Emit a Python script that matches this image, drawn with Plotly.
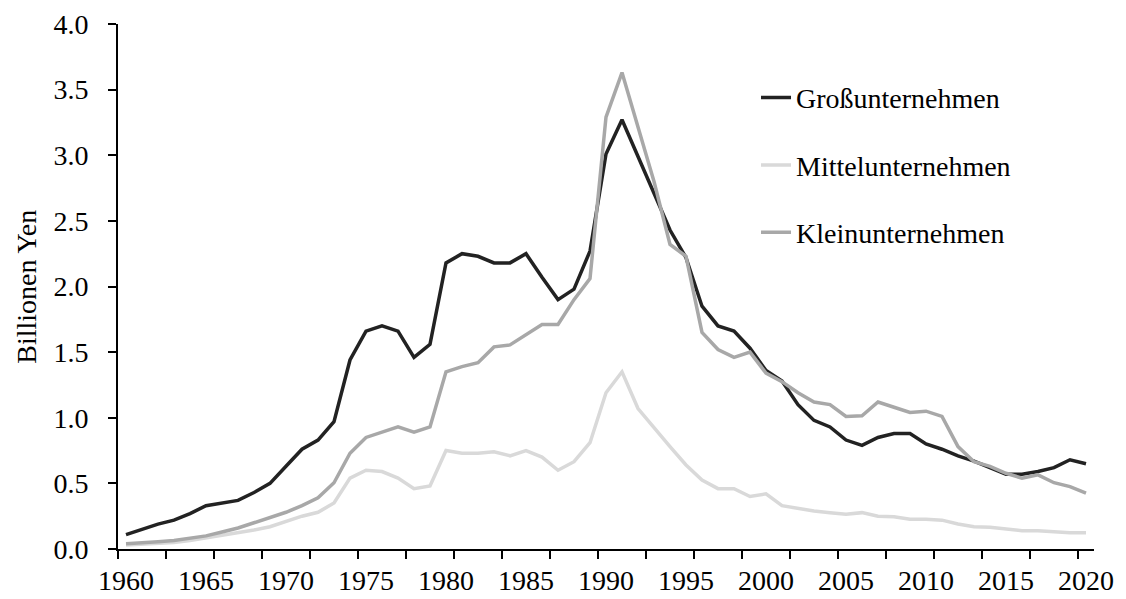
import plotly.graph_objects as go

years = list(range(1960, 2021))

gross = [0.11, 0.15, 0.19, 0.22, 0.27, 0.33, 0.35, 0.37, 0.43, 0.50,
         0.63, 0.76, 0.83, 0.97, 1.44, 1.66, 1.70, 1.66, 1.46, 1.56,
         2.18, 2.25, 2.23, 2.18, 2.18, 2.25, 2.07, 1.90, 1.98, 2.27,
         3.01, 3.27, 2.99, 2.71, 2.43, 2.22, 1.85, 1.70, 1.66, 1.53,
         1.36, 1.28, 1.10, 0.98, 0.93, 0.83, 0.79, 0.85, 0.88, 0.88,
         0.80, 0.76, 0.71, 0.67, 0.62, 0.57, 0.57, 0.59, 0.62, 0.68,
         0.65]

mittel = [0.03, 0.035, 0.045, 0.05, 0.065, 0.085, 0.10, 0.12, 0.145, 0.17,
          0.21, 0.25, 0.28, 0.35, 0.54, 0.60, 0.59, 0.54, 0.46, 0.48,
          0.75, 0.73, 0.73, 0.74, 0.71, 0.75, 0.70, 0.60, 0.665, 0.81,
          1.19, 1.35, 1.07, 0.92, 0.78, 0.64, 0.525, 0.46, 0.46, 0.40,
          0.42, 0.33, 0.31, 0.29, 0.277, 0.264, 0.277, 0.25, 0.245, 0.226,
          0.226, 0.22, 0.19, 0.17, 0.165, 0.152, 0.14, 0.14, 0.13, 0.124,
          0.124]

klein = [0.04, 0.045, 0.055, 0.065, 0.08, 0.10, 0.13, 0.16, 0.20, 0.24,
         0.28, 0.33, 0.39, 0.505, 0.73, 0.85, 0.89, 0.93, 0.89, 0.93,
         1.35, 1.39, 1.42, 1.54, 1.555, 1.63, 1.71, 1.71, 1.90, 2.06,
         3.29, 3.63, 3.22, 2.80, 2.32, 2.23, 1.65, 1.52, 1.46, 1.50,
         1.34, 1.275, 1.19, 1.12, 1.10, 1.01, 1.015, 1.12, 1.08, 1.04,
         1.05, 1.01, 0.78, 0.665, 0.63, 0.577, 0.54, 0.565, 0.505, 0.475,
         0.425]

x_labels = list(range(1960, 2021, 5))
y_ticks = [0.0, 0.5, 1.0, 1.5, 2.0, 2.5, 3.0, 3.5, 4.0]

FONT = "Liberation Serif, Times New Roman, serif"
FS = 28

fig = go.Figure()
fig.add_trace(go.Scatter(x=years, y=gross, mode="lines", name="Großunternehmen",
                         legendgroup="g1",
                         line=dict(color="#222222", width=3.5)))
fig.add_trace(go.Scatter(x=years, y=mittel, mode="lines", name="Mittelunternehmen",
                         legendgroup="g2",
                         line=dict(color="#d9d9d9", width=3.5)))
fig.add_trace(go.Scatter(x=years, y=klein, mode="lines", name="Kleinunternehmen",
                         legendgroup="g3",
                         line=dict(color="#a8a8a8", width=3.5)))

fig.update_layout(
    width=1118, height=591,
    margin=dict(l=110, r=32, t=16, b=50, autoexpand=False),
    paper_bgcolor="white", plot_bgcolor="white",
    font=dict(family=FONT, size=FS, color="black"),
    showlegend=True,
    legend=dict(x=0.6537, y=0.907, xanchor="left", yanchor="top",
                bgcolor="rgba(0,0,0,0)", tracegroupgap=28,
                font=dict(family=FONT, size=FS, color="black")),
    annotations=[dict(text="Billionen Yen", xref="paper", yref="paper",
                      x=-0.094, y=0.5, xanchor="center", yanchor="middle",
                      textangle=-90, showarrow=False,
                      font=dict(family=FONT, size=FS, color="black"))],
)
fig.update_xaxes(
    range=[1959.5, 2020.5], showgrid=False, zeroline=False, automargin=False,
    showline=True, linecolor="black", linewidth=2,
    tickmode="array", tickvals=x_labels, ticktext=[str(v) for v in x_labels],
    ticks="", ticklabelstandoff=5,
    tickfont=dict(family=FONT, size=FS, color="black"),
    minor=dict(tickmode="linear", tick0=1959.5, dtick=3, ticks="outside",
               ticklen=8, tickwidth=1.5, tickcolor="black", showgrid=False),
)
fig.update_yaxes(
    range=[0, 4.0], showgrid=False, zeroline=False, automargin=False,
    showline=True, linecolor="black", linewidth=2,
    tickmode="array", tickvals=y_ticks, ticktext=[f"{v:.1f}" for v in y_ticks],
    ticks="outside", ticklen=8, tickwidth=1.5, tickcolor="black",
    ticklabelstandoff=14,
    tickfont=dict(family=FONT, size=FS, color="black"),
)

fig.write_html("out.html")
